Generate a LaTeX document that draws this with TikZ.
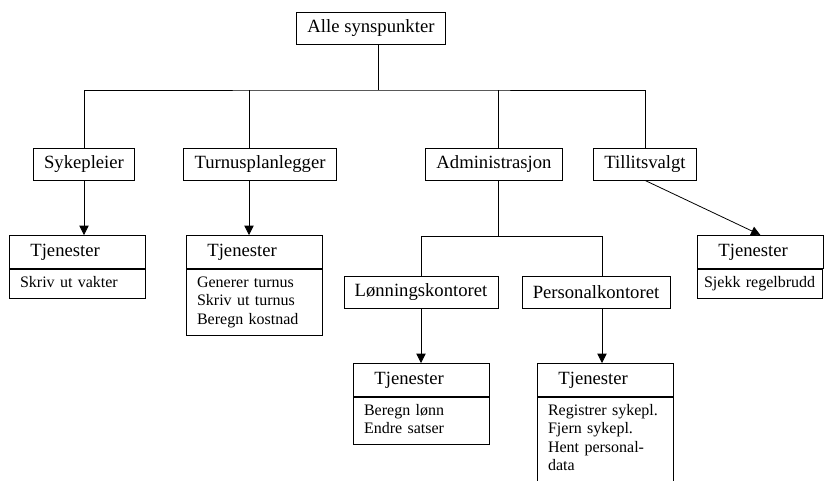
\documentclass[tikz,border=0pt]{standalone}
\usepackage{fontspec}
\setmainfont{Liberation Serif}
\usetikzlibrary{positioning,arrows.meta}
\tikzset{
	enhet/.style={draw, font=\fontsize{14}{16}\selectfont, minimum height=24pt, inner xsep=8pt},
	tjhode/.style={draw, anchor=north west, font=\fontsize{14}{16}\selectfont, minimum height=24.75pt, text width=70.5pt, inner xsep=15.75pt, align=left},
	tjliste/.style={draw, anchor=north west, font=\fontsize{12}{13.9}\selectfont, text width=86pt, inner xsep=8pt, inner ysep=3.9pt, align=left, execute at begin node=\strut, execute at end node=\strut},
}

\begin{document}
\begin{tikzpicture}[
            x=0.75pt, y=-0.75pt,
            line width=0.6pt,
            >={Triangle[length=7pt,width=7pt]}
        ]
        \useasboundingbox (0,0) rectangle (824,480);
        \node[enhet] (alle) at (371,28) {Alle synspunkter};
        \node[enhet] (syk) at (84,164) {Sykepleier};
        \node[enhet] (turnus) at (260,164) {Turnusplanlegger};
        \node[enhet] (admin) at (494,164) {Administrasjon};
        \node[enhet] (tillit) at (645,164) {Tillitsvalgt};
        \node[enhet] (lonn) at (421,292) {Lønningskontoret};
        \node[enhet] (personal) at (596,292) {Personalkontoret};

        \coordinate (topp) at (378,90);
        \coordinate (tur) at (249,90);
        \coordinate (adm) at (498,236);
        \draw (alle.south -| topp) -- (topp);
        \draw (syk.north) |- (topp) -| (tillit.north);
        \draw (turnus.north -| tur) -- (tur);
        \draw (admin.north -| adm) -- (adm |- topp);
        \draw (admin.south -| adm) -- (adm);
        \draw (lonn.north) |- (adm) -| ([xshift=4.5pt]personal.north);

        \node[tjhode] (sykTj) at (9,235) {Tjenester};
        \node[tjliste] (sykListe) at (sykTj.south west) {Skriv ut vakter};
        \node[tjhode] (turTj) at (186,235) {Tjenester};
        \node[tjliste] (turListe) at (turTj.south west) {Generer turnus\\Skriv ut turnus\\Beregn kostnad};
        \node[tjhode, text width=63pt] (tilTj) at (697,235) {Tjenester};
        \node[tjliste, text width=84pt, inner xsep=5pt] (tilListe) at (tilTj.south west) {Sjekk regelbrudd};
        \node[tjhode] (lonnTj) at (353,363) {Tjenester};
        \node[tjliste] (lonnListe) at (lonnTj.south west) {Beregn lønn\\Endre satser};
        \node[tjhode] (perTj) at (537,363) {Tjenester};
        \node[tjliste] (perListe) at (perTj.south west) {Registrer sykepl.\\Fjern sykepl.\\Hent personal-\\data};

        \draw[->] (syk.south) -- (syk.south |- sykTj.north);
        \draw[->] (turnus.south -| tur) -- (tur |- turTj.north);
        \draw[->] (tillit.south) -- (tilTj.north);
        \draw[->] (lonn.south) -- (lonn.south |- lonnTj.north);
        \draw[->] ([xshift=4.5pt]personal.south) -- ([xshift=4.5pt]personal.south |- perTj.north);
    \end{tikzpicture}
\end{document}
